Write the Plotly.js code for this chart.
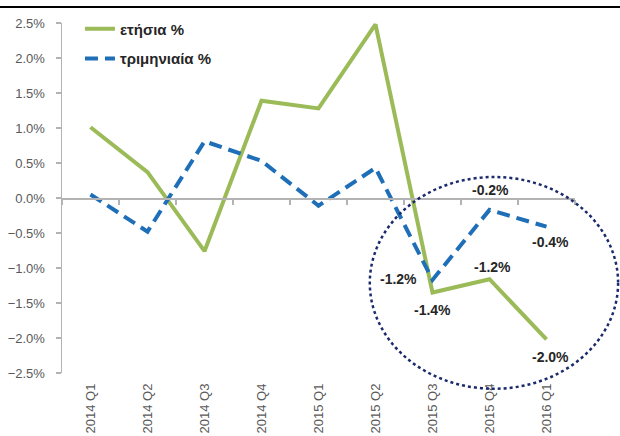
<!DOCTYPE html>
<html>
<head>
<meta charset="utf-8">
<script src="https://cdn.plot.ly/plotly-3.0.1.min.js"></script>
<style>html,body{margin:0;padding:0;background:#fff;}#chart{width:620px;height:436px;}</style>
</head>
<body>
<div id="chart"></div>
<script>
const categories = ["2014 Q1","2014 Q2","2014 Q3","2014 Q4","2015 Q1","2015 Q2","2015 Q3","2015 Q4","2016 Q1"];
const annualName = "ετήσια %";
const quarterlyName = "τριμηνιαία %";
const annualValues = [1.01, 0.37, -0.76, 1.39, 1.28, 2.48, -1.35, -1.16, -2.02];
const quarterlyValues = [0.05, -0.48, 0.81, 0.53, -0.11, 0.43, -1.17, -0.17, -0.41];
const annualLabels = [null, null, null, null, null, null, "-1.4%", "-1.2%", "-2.0%"];
const quarterlyLabels = [null, null, null, null, null, null, "-1.2%", "-0.2%", "-0.4%"];

const annualShift = {6:[0,-17], 7:[3,12], 8:[4,-18]};
const quarterlyShift = {6:[-34,1], 7:[1,20], 8:[4,-15]};

const axisGray = "#b3b3b3";
const textGray = "#595959";
const fontFam = "Liberation Sans, Arial, sans-serif";

const traces = [
  {x: categories, y: annualValues, type: "scatter", mode: "lines", name: annualName,
   line: {color: "#9bbb59", width: 4}, legend: "legend", hoverinfo: "skip"},
  {x: categories, y: quarterlyValues, type: "scatter", mode: "lines", name: quarterlyName,
   line: {color: "#1f6fb8", width: 4, dash: "13px,7px"}, legend: "legend2", hoverinfo: "skip"},
  {x: categories, y: quarterlyValues.map(() => 0), type: "scatter", mode: "lines", xaxis: "x2",
   line: {width: 0}, opacity: 0, showlegend: false, hoverinfo: "skip"}
];

const annotations = [];
function addLabels(labels, values, shifts) {
  labels.forEach((t, i) => {
    if (!t) return;
    const s = shifts[i] || [0,0];
    annotations.push({x: categories[i], y: values[i], xref: "x", yref: "y", text: t,
      showarrow: false, xshift: s[0], yshift: s[1],
      font: {family: fontFam, size: 14, color: "#262626", weight: "bold"}});
  });
}
addLabels(annualLabels, annualValues, annualShift);
addLabels(quarterlyLabels, quarterlyValues, quarterlyShift);

const layout = {
  width: 620, height: 436,
  margin: {l: 62, r: 45, t: 17, b: 63},
  paper_bgcolor: "#ffffff", plot_bgcolor: "#ffffff",
  showlegend: true,
  font: {family: fontFam, color: textGray},
  xaxis: {type: "category", range: [-0.5, 8.5], showgrid: false, zeroline: false,
    showline: false, ticks: "", tickangle: -90, ticklabelstandoff: 7,
    tickfont: {family: fontFam, size: 13, color: textGray}, fixedrange: true},
  xaxis2: {type: "category", overlaying: "x", anchor: "free", position: 0.5, side: "bottom",
    range: [-0.5, 8.5], showgrid: false, zeroline: false, showline: true, linecolor: axisGray, linewidth: 1.5,
    ticks: "outside", tickson: "boundaries", ticklen: 5, tickcolor: axisGray, tickwidth: 1.5,
    showticklabels: false, fixedrange: true},
  yaxis: {range: [-2.5, 2.5], dtick: 0.5, tick0: 0, tickformat: ".1f", ticksuffix: "%",
    showgrid: false, zeroline: false, showline: true, linecolor: axisGray, linewidth: 1.5,
    ticks: "outside", ticklen: 5, tickcolor: axisGray, tickwidth: 1.5, ticklabelstandoff: 8,
    tickfont: {family: fontFam, size: 13, color: textGray}, fixedrange: true},
  legend: {x: 0.035, y: 1.03, xanchor: "left", yanchor: "top", bgcolor: "rgba(0,0,0,0)",
    font: {family: fontFam, size: 15, color: "#262626", weight: "bold"}},
  legend2: {x: 0.035, y: 0.945, xanchor: "left", yanchor: "top", bgcolor: "rgba(0,0,0,0)",
    font: {family: fontFam, size: 15, color: "#262626", weight: "bold"}},
  annotations: annotations,
  shapes: [
    {type: "circle", xref: "paper", yref: "paper", x0: 0.600, x1: 1.084, y0: -0.045, y1: 0.56,
     line: {color: "#1a2a6c", width: 2.5, dash: "dot"}},
    {type: "line", xref: "paper", yref: "paper", x0: -0.2, x1: 1.2, y0: 1.0455, y1: 1.0455,
     line: {color: "#000000", width: 2}}
  ]
};

Plotly.newPlot("chart", traces, layout, {displayModeBar: false, staticPlot: true});
</script>
</body>
</html>
